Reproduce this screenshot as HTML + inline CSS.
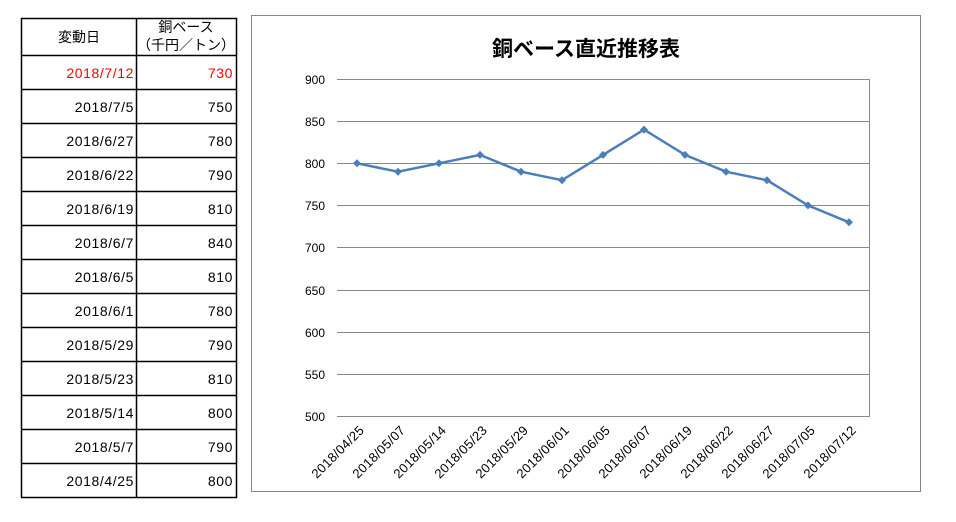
<!DOCTYPE html>
<html><head><meta charset="utf-8"><style>
body{margin:0;background:#fff;width:956px;height:522px;overflow:hidden;font-family:"Liberation Sans","Noto Sans CJK JP",sans-serif;}
</style></head><body>
<svg width="956" height="522" xmlns="http://www.w3.org/2000/svg" style="position:absolute;left:0;top:0">
<g font-family="Liberation Sans, Noto Sans CJK JP, sans-serif" font-size="14">
<rect x="21.5" y="18.5" width="215" height="479" fill="none" stroke="#000" stroke-width="1.5"/>
<line x1="136.5" y1="18" x2="136.5" y2="498" stroke="#000" stroke-width="1.5"/>
<g stroke="#000" stroke-width="1.5">
<line x1="21" y1="55.5" x2="237" y2="55.5"/><line x1="21" y1="89.5" x2="237" y2="89.5"/><line x1="21" y1="123.5" x2="237" y2="123.5"/><line x1="21" y1="157.5" x2="237" y2="157.5"/><line x1="21" y1="191.5" x2="237" y2="191.5"/><line x1="21" y1="225.5" x2="237" y2="225.5"/><line x1="21" y1="259.5" x2="237" y2="259.5"/><line x1="21" y1="293.5" x2="237" y2="293.5"/><line x1="21" y1="327.5" x2="237" y2="327.5"/><line x1="21" y1="361.5" x2="237" y2="361.5"/><line x1="21" y1="395.5" x2="237" y2="395.5"/><line x1="21" y1="429.5" x2="237" y2="429.5"/><line x1="21" y1="463.5" x2="237" y2="463.5"/>
</g>
<text x="79" y="42" text-anchor="middle">変動日</text>
<text x="186" y="32" text-anchor="middle">銅ベース</text>
<text x="186" y="50" text-anchor="middle">（千円／トン）</text>
<g text-anchor="end" letter-spacing="0.6">
<text x="134" y="78" fill="#f00">2018/7/12</text><text x="233" y="78" fill="#f00">730</text>
<text x="134" y="112">2018/7/5</text><text x="233" y="112">750</text>
<text x="134" y="146">2018/6/27</text><text x="233" y="146">780</text>
<text x="134" y="180">2018/6/22</text><text x="233" y="180">790</text>
<text x="134" y="214">2018/6/19</text><text x="233" y="214">810</text>
<text x="134" y="248">2018/6/7</text><text x="233" y="248">840</text>
<text x="134" y="282">2018/6/5</text><text x="233" y="282">810</text>
<text x="134" y="316">2018/6/1</text><text x="233" y="316">780</text>
<text x="134" y="350">2018/5/29</text><text x="233" y="350">790</text>
<text x="134" y="384">2018/5/23</text><text x="233" y="384">810</text>
<text x="134" y="418">2018/5/14</text><text x="233" y="418">800</text>
<text x="134" y="452">2018/5/7</text><text x="233" y="452">790</text>
<text x="134" y="486">2018/4/25</text><text x="233" y="486">800</text>
</g>
<rect x="251.5" y="15.5" width="669" height="476" fill="none" stroke="#888" stroke-width="1"/>
<text x="586" y="56" text-anchor="middle" font-size="21" font-weight="bold">銅ベース直近推移表</text>
<g stroke="#888" stroke-width="1">
<line x1="337" y1="79.5" x2="870" y2="79.5"/><line x1="337" y1="121.5" x2="870" y2="121.5"/><line x1="337" y1="163.5" x2="870" y2="163.5"/><line x1="337" y1="205.5" x2="870" y2="205.5"/><line x1="337" y1="247.5" x2="870" y2="247.5"/><line x1="337" y1="290.5" x2="870" y2="290.5"/><line x1="337" y1="332.5" x2="870" y2="332.5"/><line x1="337" y1="374.5" x2="870" y2="374.5"/><line x1="337" y1="416.5" x2="870" y2="416.5"/>
<line x1="869.5" y1="79" x2="869.5" y2="417"/>
</g>
<g font-size="12" text-anchor="end">
<text x="325" y="84">900</text><text x="325" y="126">850</text><text x="325" y="168">800</text><text x="325" y="210">750</text><text x="325" y="252">700</text><text x="325" y="295">650</text><text x="325" y="337">600</text><text x="325" y="379">550</text><text x="325" y="421">500</text>
</g>
<polyline fill="none" stroke="#4a7ebb" stroke-width="2.5" points="357,163.3 398,171.7 439,163.3 480,154.9 521,171.7 562,180.2 603,154.9 644,129.6 685,154.9 726,171.7 767,180.2 808,205.4 849,222.3"/>
<g fill="#4a7ebb">
<path d="M357,159.3l4,4l-4,4l-4,-4z"/><path d="M398,167.7l4,4l-4,4l-4,-4z"/><path d="M439,159.3l4,4l-4,4l-4,-4z"/><path d="M480,150.9l4,4l-4,4l-4,-4z"/><path d="M521,167.7l4,4l-4,4l-4,-4z"/><path d="M562,176.2l4,4l-4,4l-4,-4z"/><path d="M603,150.9l4,4l-4,4l-4,-4z"/><path d="M644,125.6l4,4l-4,4l-4,-4z"/><path d="M685,150.9l4,4l-4,4l-4,-4z"/><path d="M726,167.7l4,4l-4,4l-4,-4z"/><path d="M767,176.2l4,4l-4,4l-4,-4z"/><path d="M808,201.4l4,4l-4,4l-4,-4z"/><path d="M849,218.3l4,4l-4,4l-4,-4z"/>
</g>
<g font-size="13" text-anchor="end" letter-spacing="0.3">
<text transform="translate(365,431) rotate(-45)">2018/04/25</text>
<text transform="translate(406,431) rotate(-45)">2018/05/07</text>
<text transform="translate(447,431) rotate(-45)">2018/05/14</text>
<text transform="translate(488,431) rotate(-45)">2018/05/23</text>
<text transform="translate(529,431) rotate(-45)">2018/05/29</text>
<text transform="translate(570,431) rotate(-45)">2018/06/01</text>
<text transform="translate(611,431) rotate(-45)">2018/06/05</text>
<text transform="translate(652,431) rotate(-45)">2018/06/07</text>
<text transform="translate(693,431) rotate(-45)">2018/06/19</text>
<text transform="translate(734,431) rotate(-45)">2018/06/22</text>
<text transform="translate(775,431) rotate(-45)">2018/06/27</text>
<text transform="translate(816,431) rotate(-45)">2018/07/05</text>
<text transform="translate(857,431) rotate(-45)">2018/07/12</text>
</g>
</g>
</svg>
</body></html>
